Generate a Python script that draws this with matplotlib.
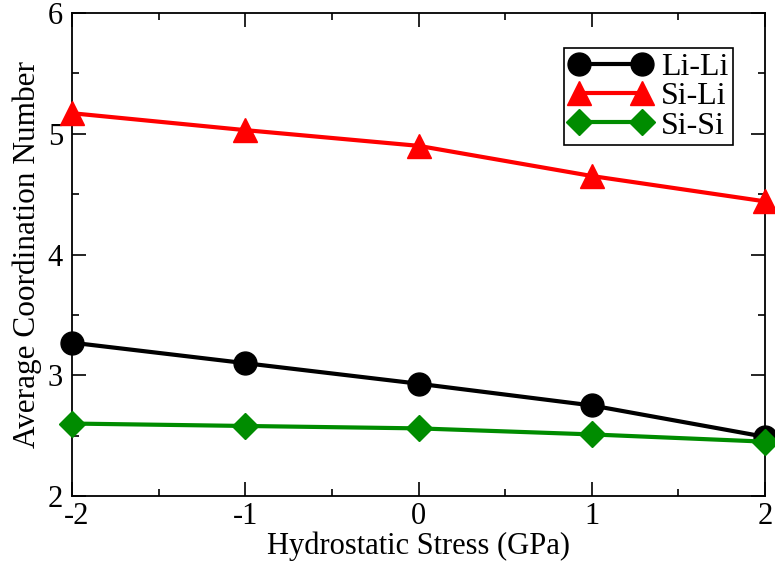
import matplotlib.pyplot as plt
import matplotlib.transforms as mtransforms

# 數據
stress = [-2, -1, 0, 1, 2]
li_li = [3.27, 3.10, 2.93, 2.75, 2.49]
si_li = [5.17, 5.03, 4.90, 4.65, 4.44]
si_si = [2.60, 2.58, 2.56, 2.51, 2.45]
x_ticks = [-2, -1, 0, 1, 2]
y_ticks = [2, 3, 4, 5, 6]

plt.rcParams['font.family'] = ['Liberation Serif', 'DejaVu Serif']
plt.rcParams['axes.unicode_minus'] = False

fig = plt.figure(figsize=(7.75, 5.69), dpi=100)
ax = fig.add_axes([72 / 775, 73 / 569, 693 / 775, 483 / 569])

ax.plot(stress, li_li, color='black', lw=3, marker='o', ms=16.5, label='Li-Li', clip_on=False, zorder=3)
ax.plot(stress, si_li, color='red', lw=3, marker='^', ms=17, label='Si-Li', clip_on=False, zorder=3)
ax.plot(stress, si_si, color='#008c00', lw=3, marker='D', ms=13, label='Si-Si', clip_on=False, zorder=3)

ax.set_xlim(-2, 2)
ax.set_ylim(2, 6)
ax.set_xticks(x_ticks)
ax.set_xticks([-1.5, -0.5, 0.5, 1.5], minor=True)
ax.set_yticks(y_ticks)
ax.set_yticks([2.5, 3.5, 4.5, 5.5], minor=True)
ax.tick_params(which='both', direction='in', top=True, right=True, width=1.2, labelsize=22)
ax.tick_params(axis='x', which='both', pad=4)
ax.tick_params(axis='y', which='both', pad=6.5)
ax.tick_params(which='major', length=10)
ax.tick_params(which='minor', length=5)
for s in ax.spines.values():
    s.set_linewidth(1.3)

# 左下角的 -2 稍微右移,避免和 y 軸的 2 重疊
first = ax.get_xticklabels()[0]
first.set_transform(first.get_transform() + mtransforms.ScaledTranslation(5 / 100, 0, fig.dpi_scale_trans))

ax.set_xlabel('Hydrostatic Stress (GPa)', fontsize=22, labelpad=0.5)
ax.set_ylabel('Average Coordination Number', fontsize=22.5, labelpad=4)

leg = ax.legend(loc='upper right', bbox_to_anchor=(0.954, 0.928), numpoints=2, fontsize=23,
                fancybox=False, framealpha=1, edgecolor='black', handlelength=2.6,
                handletextpad=0.28, borderpad=0.15, labelspacing=0.0, borderaxespad=0)
leg.get_frame().set_linewidth(1.2)

fig.savefig('out.png', dpi=100)
